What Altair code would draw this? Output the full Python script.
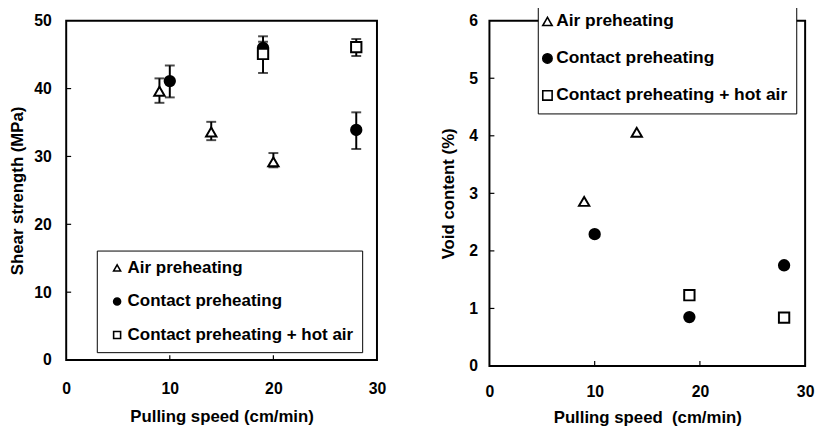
import altair as alt
import pandas as pd

FONT = "Liberation Sans"

series_names = ["Air preheating", "Contact preheating", "Contact preheating + hot air"]
marker_shapes = ["triangle-up", "circle", "square"]
marker_fills = ["white", "black", "white"]
marker_strokes = ["black", "black", "black"]

# ---- Shear strength panel (MPa), with error bars ----
air_speed = [9, 14, 20]
air_shear = [39.6, 33.6, 29.2]
air_shear_lo = [37.9, 32.4, 28.4]
air_shear_hi = [41.5, 35.1, 30.5]

contact_speed = [10, 19, 28]
contact_shear = [41.1, 46.0, 33.9]
contact_shear_lo = [38.7, 44.6, 31.1]
contact_shear_hi = [43.4, 47.7, 36.5]

hot_speed = [19, 28]
hot_shear = [45.1, 46.1]
hot_shear_lo = [42.3, 44.8]
hot_shear_hi = [46.9, 47.3]

# ---- Void content panel (%) ----
air_void_speed = [9, 14]
air_void = [2.86, 4.06]
contact_void_speed = [10, 19, 28]
contact_void = [2.29, 0.85, 1.75]
hot_void_speed = [19, 28]
hot_void = [1.23, 0.84]

x_ticks = [0, 10, 20, 30]
shear_ticks = [0, 10, 20, 30, 40, 50]
void_ticks = [0, 1, 2, 3, 4, 5, 6]

shear_df = pd.concat([
    pd.DataFrame({"speed": air_speed, "value": air_shear, "lo": air_shear_lo,
                  "hi": air_shear_hi, "series": series_names[0]}),
    pd.DataFrame({"speed": contact_speed, "value": contact_shear, "lo": contact_shear_lo,
                  "hi": contact_shear_hi, "series": series_names[1]}),
    pd.DataFrame({"speed": hot_speed, "value": hot_shear, "lo": hot_shear_lo,
                  "hi": hot_shear_hi, "series": series_names[2]}),
], ignore_index=True)

void_df = pd.concat([
    pd.DataFrame({"speed": air_void_speed, "value": air_void, "series": series_names[0]}),
    pd.DataFrame({"speed": contact_void_speed, "value": contact_void, "series": series_names[1]}),
    pd.DataFrame({"speed": hot_void_speed, "value": hot_void, "series": series_names[2]}),
], ignore_index=True)

shape_scale = alt.Scale(domain=series_names, range=marker_shapes)
fill_scale = alt.Scale(domain=series_names, range=marker_fills)
stroke_scale = alt.Scale(domain=series_names, range=marker_strokes)


def make_legend(x, y, size, row_pad, pad, sym_size, sym_off, lab_off):
    return alt.Legend(
        title=None, orient="none", legendX=x, legendY=y,
        fillColor="white", strokeColor="black", padding=pad, rowPadding=row_pad,
        labelFont=FONT, labelFontSize=size, labelFontWeight="bold", labelColor="black",
        labelLimit=500, symbolSize=sym_size, symbolStrokeWidth=1.6,
        symbolOffset=sym_off, labelOffset=lab_off,
    )


def panel(df, width, height, ydomain, yticks, ytitle, xtitle, legend,
          ylabpad, ytitlepad, xlabpad, xtitlepad, errors):
    xs = alt.Scale(domain=[0, 30], nice=False, zero=False)
    ys = alt.Scale(domain=ydomain, nice=False, zero=False)
    xaxis = alt.Axis(values=x_ticks, title=xtitle, labelPadding=xlabpad, format="d",
                     titlePadding=xtitlepad, grid=False, domain=False, ticks=False,
                     labelFlush=False)
    yaxis = alt.Axis(values=yticks, title=ytitle, labelPadding=ylabpad, format="d",
                     titlePadding=ytitlepad, grid=False, domain=False, ticks=False,
                     labelFlush=False)
    base = alt.Chart(df)
    layers = []
    if errors:
        layers.append(base.mark_rule(color="black", strokeWidth=2).encode(
            x=alt.X("speed:Q", scale=xs, axis=xaxis),
            y=alt.Y("lo:Q", scale=ys, axis=yaxis), y2="hi:Q"))
        for f in ["lo", "hi"]:
            layers.append(base.mark_tick(color="black", orient="horizontal", size=10,
                                         thickness=2).encode(
                x=alt.X("speed:Q", scale=xs), y=alt.Y(f + ":Q", scale=ys)))
    points = base.mark_point(size=110, strokeWidth=2, opacity=1,
                             fillOpacity=1).encode(
        x=alt.X("speed:Q", scale=xs, axis=xaxis),
        y=alt.Y("value:Q", scale=ys, axis=yaxis),
        shape=alt.Shape("series:N", scale=shape_scale, legend=legend),
        fill=alt.Fill("series:N", scale=fill_scale, legend=legend),
        stroke=alt.Stroke("series:N", scale=stroke_scale, legend=legend),
    )
    layers.append(points)
    # inward tick marks
    xt = alt.Chart(pd.DataFrame({"speed": x_ticks[1:-1]})).mark_rule(
        color="black", strokeWidth=1.2).encode(
        x=alt.X("speed:Q", scale=xs), y=alt.value(height), y2=alt.value(height - 5))
    yt = alt.Chart(pd.DataFrame({"value": yticks[1:-1]})).mark_rule(
        color="black", strokeWidth=1.2).encode(
        y=alt.Y("value:Q", scale=ys), x=alt.value(0), x2=alt.value(5))
    layers += [xt, yt]
    return alt.layer(*layers).properties(width=width, height=height)


left = panel(shear_df, 315, 344, [0, 50], shear_ticks, "Shear strength (MPa)",
             "Pulling speed (cm/min)",
             make_legend(31, 233, 17.2, 16, 9, 50, 3, 2),
             15, 7, 21, 12, True)

right = panel(void_df, 320, 350, [0, 6], void_ticks, "Void content (%)",
              "Pulling speed\u00a0 (cm/min)",
              make_legend(49, -17, 17.6, 18.5, 9, 90, -8, 0),
              12, 12, 18, 10, False)

chart = alt.hconcat(left, right, spacing=52).resolve_scale(
    shape="independent", fill="independent", stroke="independent"
).resolve_legend(
    shape="independent", fill="independent", stroke="independent"
).properties(
    padding={"left": 0, "top": -9, "right": 0, "bottom": 0}
).configure_axis(
    labelFont=FONT, labelFontSize=16, labelFontWeight="bold", labelColor="black",
    titleFont=FONT, titleFontSize=17, titleFontWeight="bold", titleColor="black",
).configure_view(
    stroke="black", strokeWidth=2
).configure_legend(strokeWidth=1)

chart.save("out.html", embed_options={"renderer": "svg", "actions": False})
